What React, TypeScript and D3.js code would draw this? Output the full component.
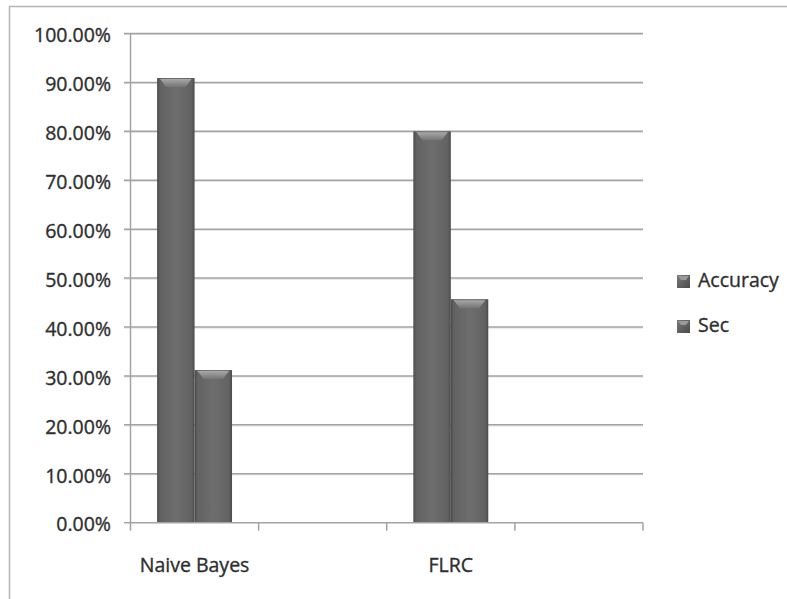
import React from "react";
import * as d3 from "d3";

const categories: string[] = ["Naive Bayes", "", "FLRC", ""];
const seriesNames: string[] = ["Accuracy", "Sec"];
const accuracy: (number | null)[] = [0.909, null, 0.80, null];
const sec: (number | null)[] = [0.312, null, 0.457, null];
const yTicks: number[] = [0, 0.1, 0.2, 0.3, 0.4, 0.5, 0.6, 0.7, 0.8, 0.9, 1.0];

const W = 787;
const H = 599;
const FONT = "'Open Sans', 'DejaVu Sans', sans-serif";
const TEXT = "#2e2e2e";
const GRID = "#a3a3a3";

export default function App() {
  const x = d3
    .scaleBand<number>()
    .domain(d3.range(categories.length))
    .range([130.5, 643])
    .paddingInner(0)
    .paddingOuter(0);
  const xs = d3
    .scaleBand<string>()
    .domain(seriesNames)
    .range([0, x.bandwidth()])
    .paddingInner(0)
    .paddingOuter(0.71);
  const y = d3.scaleLinear().domain([0, 1]).range([522.7, 33.5]);
  const fmt = d3.format(".2%");
  const values = [accuracy, sec];

  const bars: { key: string; x: number; y: number; w: number; h: number }[] = [];
  categories.forEach((_, i) => {
    seriesNames.forEach((s, j) => {
      const v = values[j][i];
      if (v == null) return;
      const bx = (x(i) as number) + (xs(s) as number);
      const by = y(v);
      bars.push({ key: `${i}-${j}`, x: bx, y: by, w: xs.bandwidth(), h: y(0) - by });
    });
  });

  const x0 = x.range()[0];
  const x1 = x.range()[1];
  const boundaries = d3.range(categories.length + 1).map((i) =>
    i < categories.length ? (x(i) as number) : x1
  );

  const textProps = {
    fontFamily: FONT,
    fontSize: 19.5,
    fill: TEXT,
    stroke: TEXT,
    strokeWidth: 0.35,
  };

  return (
    <svg
      width={W}
      height={H}
      style={{ position: "absolute", left: 0, top: 0, background: "#fff" }}
    >
      <defs>
        <linearGradient id="barG" x1="0" x2="1" y1="0" y2="0">
          <stop offset="0" stopColor="#4a4a4a" />
          <stop offset="0.08" stopColor="#626262" />
          <stop offset="0.5" stopColor="#6e6e6e" />
          <stop offset="0.92" stopColor="#626262" />
          <stop offset="1" stopColor="#4a4a4a" />
        </linearGradient>
        <linearGradient id="bevG" x1="0" x2="0" y1="0" y2="1">
          <stop offset="0" stopColor="#a8a8a8" />
          <stop offset="1" stopColor="#747474" />
        </linearGradient>
        <linearGradient id="legG" x1="0" x2="1" y1="0" y2="1">
          <stop offset="0" stopColor="#7a7a7a" />
          <stop offset="1" stopColor="#4a4a4a" />
        </linearGradient>
      </defs>
      <rect x={9.5} y={6.5} width={900} height={700} fill="none" stroke="#b5b5b5" strokeWidth={1.5} />

      {yTicks.map((t) => (
        <g key={t}>
          {t > 0 && (
            <line x1={124} x2={x1} y1={y(t) + 1} y2={y(t) + 1} stroke="#dcdcdc" strokeWidth={1} />
          )}
          <line
            x1={124}
            x2={t > 0 ? x1 : 131}
            y1={y(t)}
            y2={y(t)}
            stroke={GRID}
            strokeWidth={1.5}
          />
          <text x={111} y={y(t)} dy="0.45em" textAnchor="end" {...textProps}>
            {fmt(t)}
          </text>
        </g>
      ))}

      <line x1={x0} x2={x0} y1={y(1)} y2={y(0) + 1} stroke={GRID} strokeWidth={1.5} />

      {bars.map((b) => {
        const bev = 9;
        return (
          <g key={b.key}>
            <rect x={b.x} y={b.y} width={b.w} height={b.h} fill="url(#barG)" />
            <polygon
              points={`${b.x + 3},${b.y + 1} ${b.x + b.w - 3},${b.y + 1} ${b.x + b.w - 9},${b.y + bev} ${b.x + 9},${b.y + bev}`}
              fill="url(#bevG)"
            />
          </g>
        );
      })}

      <line x1={x0} x2={x1} y1={y(0)} y2={y(0)} stroke={GRID} strokeWidth={1.5} />
      {boundaries.map((bx, i) => (
        <line key={i} x1={bx} x2={bx} y1={y(0)} y2={y(0) + 8} stroke={GRID} strokeWidth={1.5} />
      ))}

      {categories.map((c, i) =>
        c ? (
          <text
            key={i}
            x={(x(i) as number) + x.bandwidth() / 2}
            y={572}
            textAnchor="middle"
            {...textProps}
          >
            {c}
          </text>
        ) : null
      )}

      {seriesNames.map((s, i) => (
        <g key={s} transform={`translate(677, ${275 + i * 45})`}>
          <rect x={0} y={0} width={13} height={13} fill="url(#legG)" />
          <polygon points="1,1 12,1 9,5 4,5" fill="#9a9a9a" />
          <text x={21} y={12} {...textProps}>
            {s}
          </text>
        </g>
      ))}
    </svg>
  );
}
